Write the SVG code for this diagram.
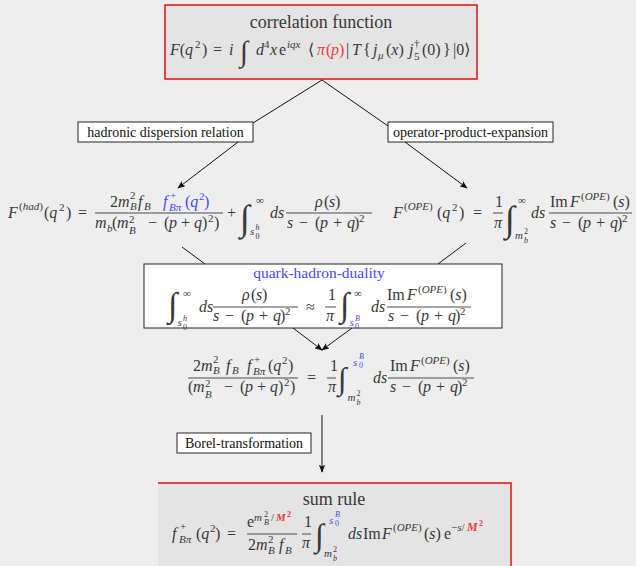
<svg xmlns="http://www.w3.org/2000/svg" width="636" height="566" viewBox="0 0 636 566">
<defs>
<style>
text{font-family:"Liberation Serif","Times New Roman","DejaVu Serif",serif;fill:#383838;font-size:16px}
.i{font-style:italic}
.s{font-size:11px}
.ss{font-size:8px}
.r{fill:#f03a3a}
.bd{font-weight:bold}
.b{fill:#4848f0}
.int{font-family:"Liberation Serif","DejaVu Serif",serif;font-size:36px}
.lbl{font-size:14px;fill:#111}
.bar{stroke:#383838;stroke-width:0.9}
.conn line{stroke:#111;stroke-width:1}
.box{fill:#fff;stroke:#222;stroke-width:1}
.gbox{fill:#e4e4e4}
.red{fill:none;stroke:#e41010;stroke-width:1.5}
</style>
<marker id="ah" viewBox="0 0 10 8" refX="9" refY="4" markerWidth="8" markerHeight="6.4" orient="auto" markerUnits="userSpaceOnUse"><path d="M0,0 L10,4 L0,8 L2,4 z" fill="#111"/></marker>
</defs>
<rect width="636" height="566" fill="#eeeeee"/>

<g id="correlation-function">
<rect class="gbox" x="165" y="5" width="312" height="74"/>
<rect class="red" x="165" y="5" width="312" height="74"/>
<text x="321" y="28" text-anchor="middle" style="font-size:18px">correlation function</text>
<text y="55"><tspan x="170" class="i">F</tspan><tspan>(</tspan><tspan class="i">q</tspan></text>
<text x="195" y="48" class="s">2</text>
<text x="202" y="55">)</text>
<text x="213" y="55">=</text>
<text x="229" y="55" class="i">i</text>
<text x="240" y="61" class="int" style="font-size:29px">∫</text>
<text x="256" y="55" class="i">d</text><text x="264" y="48" class="s">4</text><text x="270" y="55" class="i">x</text>
<text x="279" y="55">e</text><text x="287" y="48" class="s i">iqx</text>
<text x="308" y="55">⟨</text>
<text y="55" class="r"><tspan x="317" class="i">π</tspan><tspan x="326">(</tspan><tspan x="331" class="i">p</tspan><tspan x="339">)</tspan></text>
<text x="346" y="55">|</text>
<text x="352" y="55" class="i">T</text>
<text x="363" y="55">{</text>
<text x="373" y="55" class="i">j</text><text x="378" y="59" class="s i">μ</text>
<text y="55"><tspan x="386">(</tspan><tspan class="i">x</tspan><tspan>)</tspan></text>
<text x="409" y="55" class="i">j</text><text x="414" y="47" class="s">†<tspan x="414" dy="13">5</tspan></text>
<text x="422" y="55">(0)</text>
<text x="443" y="55">}</text>
<text x="453" y="55">|0⟩</text>
</g>

<g id="label-hadronic">
<rect class="box" x="78" y="122" width="175" height="20"/>
<text class="lbl" x="165.5" y="137" text-anchor="middle">hadronic dispersion relation</text>
</g>
<g id="label-ope">
<rect class="box" x="388" y="122" width="165" height="20"/>
<text class="lbl" x="470.5" y="137" text-anchor="middle">operator-product-expansion</text>
</g>

<g id="hadronic-side">
<text x="8" y="218" class="i">F</text>
<text x="19" y="210" class="s">(<tspan class="i">had</tspan>)</text>
<text y="218"><tspan x="44">(</tspan><tspan class="i">q</tspan></text>
<text x="59" y="211" class="s">2</text>
<text x="66" y="218">)</text>
<text x="78" y="218">=</text>
<text x="110" y="207">2</text><text x="118" y="207" class="i">m</text>
<text x="130" y="199" class="s">2<tspan x="130" dy="11" class="i">B</tspan></text>
<text x="138" y="207" class="i">f</text><text x="144" y="210" class="s i">B</text>
<text x="163" y="207" class="i b">f</text><text x="170" y="199" class="s b">+<tspan x="169" dy="12" class="i">Bπ</tspan></text>
<text y="207" class="b"><tspan x="185">(</tspan><tspan class="i">q</tspan></text><text x="199" y="200" class="s b">2</text><text x="204" y="207" class="b">)</text>
<line class="bar" x1="95" y1="213" x2="223" y2="213"/>
<text x="95" y="228" class="i">m</text><text x="107" y="232" class="s i">b</text>
<text x="112" y="228">(</text><text x="117" y="228" class="i">m</text><text x="129" y="223" class="s">2<tspan x="129" dy="11" class="i">B</tspan></text>
<text x="148" y="228">−</text>
<text y="228"><tspan x="164">(</tspan><tspan x="169" class="i">p</tspan><tspan x="181">+</tspan><tspan x="194" class="i">q</tspan><tspan x="202">)</tspan></text>
<text x="208" y="222" class="s">2</text><text x="214" y="228">)</text>
<text x="227" y="218">+</text>
<text x="240" y="230" class="int">∫</text>
<text x="256" y="204" class="s">∞</text>
<text x="250" y="235" class="s i">s</text>
<text x="255.5" y="230" class="ss i">h<tspan x="255.5" dy="8.5" class="ss" style="font-style:normal">0</tspan></text>
<text x="270" y="218" class="i">ds</text>
<text y="207"><tspan x="315" class="i">ρ</tspan><tspan x="324">(</tspan><tspan x="329" class="i">s</tspan><tspan x="335">)</tspan></text>
<line class="bar" x1="286" y1="213" x2="372" y2="213"/>
<text y="228"><tspan x="287" class="i">s</tspan><tspan x="299">−</tspan><tspan x="315">(</tspan><tspan x="320" class="i">p</tspan><tspan x="333">+</tspan><tspan x="347" class="i">q</tspan><tspan x="354">)</tspan></text>
<text x="359" y="222" class="s">2</text>
</g>

<g id="ope-side">
<text x="393" y="218" class="i">F</text>
<text x="404" y="210" class="s">(<tspan class="i">OPE</tspan>)</text>
<text y="218"><tspan x="437">(</tspan><tspan class="i">q</tspan></text><text x="452" y="211" class="s">2</text><text x="459" y="218">)</text>
<text x="473" y="218">=</text>
<text x="495" y="207">1</text>
<line class="bar" x1="493" y1="213" x2="503" y2="213"/>
<text x="494" y="228" class="i">π</text>
<text x="505" y="231" class="int">∫</text>
<text x="518" y="204" class="s">∞</text>
<text x="515" y="239" class="s i">m</text>
<text x="524" y="234" class="ss">2<tspan x="524" dy="8.5" class="i">b</tspan></text>
<text x="531" y="218" class="i">ds</text>
<text x="550" y="207">Im</text><text x="570" y="207" class="i">F</text>
<text x="581" y="200" class="s">(<tspan class="i">OPE</tspan>)</text>
<text y="207"><tspan x="613">(</tspan><tspan class="i">s</tspan><tspan>)</tspan></text>
<line class="bar" x1="549" y1="213" x2="632" y2="213"/>
<text y="228"><tspan x="550" class="i">s</tspan><tspan x="562">−</tspan><tspan x="578">(</tspan><tspan x="583" class="i">p</tspan><tspan x="596">+</tspan><tspan x="610" class="i">q</tspan><tspan x="617">)</tspan></text>
<text x="622" y="222" class="s">2</text>
</g>

<g id="quark-hadron-duality">
<rect class="box" x="144" y="264" width="358" height="64"/>
<text x="319" y="278" class="b" style="font-size:15.5px" text-anchor="middle">quark-hadron-duality</text>
<text x="168" y="316" class="int" style="font-size:34px">∫</text>
<text x="183" y="297" class="s">∞</text>
<text x="177.5" y="326" class="s i">s</text>
<text x="183" y="321" class="ss i">h<tspan x="183" dy="8.5" style="font-style:normal">0</tspan></text>
<text x="199" y="312" class="i">ds</text>
<text y="300"><tspan x="242" class="i">ρ</tspan><tspan x="251">(</tspan><tspan x="256" class="i">s</tspan><tspan x="262">)</tspan></text>
<line class="bar" x1="213" y1="307" x2="298" y2="307"/>
<text y="321"><tspan x="213" class="i">s</tspan><tspan x="225">−</tspan><tspan x="241">(</tspan><tspan x="246" class="i">p</tspan><tspan x="259">+</tspan><tspan x="273" class="i">q</tspan><tspan x="280">)</tspan></text>
<text x="285" y="315" class="s">2</text>
<text x="306" y="312">≈</text>
<text x="328" y="300">1</text>
<line class="bar" x1="325" y1="307" x2="336" y2="307"/>
<text x="326" y="321" class="i">π</text>
<text x="340" y="316" class="int" style="font-size:34px">∫</text>
<text x="354" y="297" class="s">∞</text>
<text x="349.5" y="326" class="s i b">s</text>
<text x="355" y="320.5" class="ss i b">B<tspan x="355" dy="8.5" style="font-style:normal">0</tspan></text>
<text x="371" y="312" class="i">ds</text>
<text x="387" y="300">Im</text><text x="407" y="300" class="i">F</text>
<text x="418" y="293" class="s">(<tspan class="i">OPE</tspan>)</text>
<text y="300"><tspan x="450">(</tspan><tspan class="i">s</tspan><tspan>)</tspan></text>
<line class="bar" x1="387" y1="307" x2="471" y2="307"/>
<text y="321"><tspan x="388" class="i">s</tspan><tspan x="400">−</tspan><tspan x="416">(</tspan><tspan x="421" class="i">p</tspan><tspan x="434">+</tspan><tspan x="448" class="i">q</tspan><tspan x="455">)</tspan></text>
<text x="460" y="315" class="s">2</text>
</g>

<g id="combined-equation">
<text x="193" y="371">2</text><text x="201" y="371" class="i">m</text>
<text x="213" y="363" class="s">2<tspan x="213" dy="11" class="i">B</tspan></text>
<text x="226" y="371" class="i">f</text><text x="232" y="374" class="s i">B</text>
<text x="247" y="371" class="i">f</text><text x="254" y="363" class="s">+<tspan x="253" dy="12" class="i">Bπ</tspan></text>
<text y="371"><tspan x="268">(</tspan><tspan class="i">q</tspan></text><text x="282" y="364" class="s">2</text><text x="288" y="371">)</text>
<line class="bar" x1="188" y1="378" x2="298" y2="378"/>
<text x="188" y="392">(</text><text x="193" y="392" class="i">m</text><text x="205" y="387" class="s">2<tspan x="205" dy="11" class="i">B</tspan></text>
<text x="224" y="392">−</text>
<text y="392"><tspan x="240">(</tspan><tspan x="245" class="i">p</tspan><tspan x="257">+</tspan><tspan x="270" class="i">q</tspan><tspan x="278">)</tspan></text>
<text x="284" y="386" class="s">2</text><text x="290" y="392">)</text>
<text x="307" y="383">=</text>
<text x="330" y="371">1</text>
<line class="bar" x1="327" y1="378" x2="336" y2="378"/>
<text x="328" y="392" class="i">π</text>
<text x="338" y="389" class="int" style="font-size:31px">∫</text>
<text x="353" y="366" class="s i b">s</text>
<text x="359" y="359" class="ss i b">B<tspan x="359" dy="9" style="font-style:normal">0</tspan></text>
<text x="347.5" y="401" class="s i">m</text>
<text x="356.5" y="396" class="ss">2<tspan x="356.5" dy="8.5" class="i">b</tspan></text>
<text x="373" y="383" class="i">ds</text>
<text x="390" y="371">Im</text><text x="410" y="371" class="i">F</text>
<text x="421" y="364" class="s">(<tspan class="i">OPE</tspan>)</text>
<text y="371"><tspan x="453">(</tspan><tspan class="i">s</tspan><tspan>)</tspan></text>
<line class="bar" x1="388" y1="378" x2="474" y2="378"/>
<text y="392"><tspan x="390" class="i">s</tspan><tspan x="402">−</tspan><tspan x="418">(</tspan><tspan x="423" class="i">p</tspan><tspan x="436">+</tspan><tspan x="450" class="i">q</tspan><tspan x="457">)</tspan></text>
<text x="462" y="386" class="s">2</text>
</g>

<g id="label-borel">
<rect class="box" x="177" y="433" width="134" height="20"/>
<text class="lbl" x="244" y="448" text-anchor="middle">Borel-transformation</text>
</g>

<g id="sum-rule">
<rect class="gbox" x="158" y="483" width="353" height="90"/>
<path class="red" d="M158,483 H511 V566"/>
<text x="334" y="505" text-anchor="middle" style="font-size:18px">sum rule</text>
<text x="172" y="539" class="i">f</text><text x="180" y="530" class="s">+<tspan x="179" dy="13" class="i">Bπ</tspan></text>
<text y="539"><tspan x="196">(</tspan><tspan class="i">q</tspan></text><text x="210" y="532" class="s">2</text><text x="215" y="539">)</text>
<text x="227" y="539">=</text>
<text x="247" y="527">e</text>
<text y="521" class="s"><tspan x="254" class="i">m</tspan><tspan x="264" y="517" class="ss">2</tspan><tspan x="264" y="525" class="ss i">B</tspan><tspan x="271" y="521">/</tspan><tspan x="276" class="i r bd">M</tspan><tspan x="287" y="517" class="ss r bd">2</tspan></text>
<line class="bar" x1="247" y1="534" x2="297" y2="534"/>
<text x="248" y="550">2</text><text x="256" y="550" class="i">m</text><text x="268" y="543" class="s">2<tspan x="268" dy="11" class="i">B</tspan></text>
<text x="279" y="550" class="i">f</text><text x="285" y="554" class="s i">B</text>
<text x="304" y="527">1</text>
<line class="bar" x1="302" y1="534" x2="311" y2="534"/>
<text x="302" y="548" class="i">π</text>
<text x="315" y="546" class="int" style="font-size:32px">∫</text>
<text x="329" y="524" class="s i b">s</text>
<text x="335" y="517" class="ss i b">B<tspan x="335" dy="9" style="font-style:normal">0</tspan></text>
<text x="324" y="557" class="s i">m</text>
<text x="333" y="552" class="ss">2<tspan x="333" dy="8.5" class="i">b</tspan></text>
<text x="348" y="539" class="i">ds</text>
<text x="363" y="539">Im</text><text x="382" y="539" class="i">F</text>
<text x="393" y="531" class="s">(<tspan class="i">OPE</tspan>)</text>
<text y="539"><tspan x="424">(</tspan><tspan class="i">s</tspan><tspan>)</tspan></text>
<text x="444" y="539">e</text>
<text y="531" class="s"><tspan x="451">−</tspan><tspan class="i">s</tspan><tspan>/</tspan><tspan x="467" class="i r bd" style="font-size:12px">M</tspan><tspan x="479" y="526" class="ss r bd">2</tspan></text>
</g>

<g id="connectors" class="conn">
<line x1="322" y1="80" x2="253" y2="123"/>
<line x1="322" y1="80" x2="388" y2="126"/>
<line x1="238" y1="142" x2="178" y2="188" marker-end="url(#ah)"/>
<line x1="405" y1="142" x2="467" y2="188" marker-end="url(#ah)"/>
<line x1="182" y1="247" x2="205" y2="264"/>
<line x1="466" y1="243" x2="438" y2="264"/>
<line x1="293" y1="328" x2="322" y2="350" marker-end="url(#ah)"/>
<line x1="352" y1="328" x2="322" y2="350" marker-end="url(#ah)"/>
<line x1="322" y1="415" x2="322" y2="472" marker-end="url(#ah)"/>
</g>
</svg>
